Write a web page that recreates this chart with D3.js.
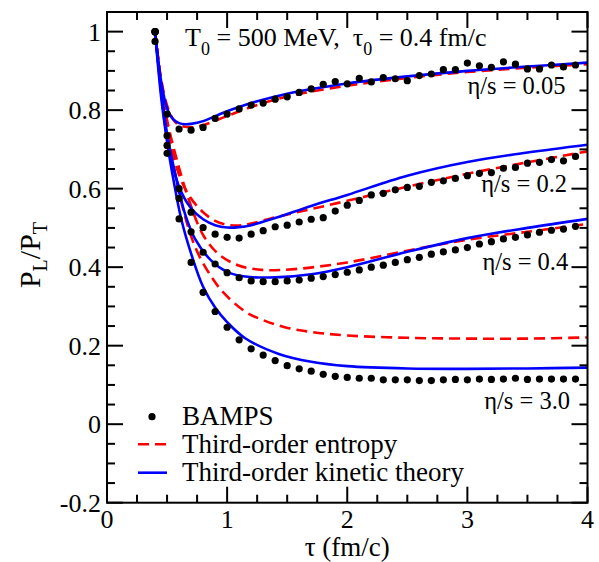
<!DOCTYPE html>
<html>
<head>
<meta charset="utf-8">
<script src="https://cdn.jsdelivr.net/npm/d3@7"></script>
<style>
  body { margin: 0; background: #fff; }
  svg text { font-family: "Liberation Serif", "DejaVu Serif", serif; }
</style>
</head>
<body>
<svg id="chart"></svg>
<script>
// BAMPS (точки), tau в fm/c
const bampsTau = [0.4, 0.5, 0.6, 0.7, 0.8, 0.9, 1.0, 1.1, 1.2, 1.3, 1.4, 1.5, 1.6, 1.7, 1.8, 1.9,
  2.0, 2.1, 2.2, 2.3, 2.4, 2.5, 2.6, 2.7, 2.8, 2.9, 3.0, 3.1, 3.2, 3.3, 3.4, 3.5, 3.6, 3.7, 3.8, 3.9];
const bamps005 = [1.0, 0.79, 0.752, 0.749, 0.756, 0.779, 0.79, 0.803, 0.813, 0.818, 0.828, 0.834, 0.845, 0.854, 0.866, 0.873,
  0.867, 0.881, 0.872, 0.883, 0.880, 0.875, 0.888, 0.892, 0.903, 0.903, 0.920, 0.913, 0.909, 0.923, 0.917, 0.905, 0.905, 0.915, 0.910, 0.915];
const bamps02 = [1.0, 0.735, 0.60, 0.54, 0.501, 0.484, 0.476, 0.474, 0.484, 0.493, 0.503, 0.507, 0.515, 0.522, 0.526, 0.543,
  0.558, 0.570, 0.584, 0.588, 0.597, 0.603, 0.606, 0.616, 0.620, 0.626, 0.633, 0.639, 0.641, 0.652, 0.654, 0.665, 0.667, 0.674, 0.671, 0.682];
const bamps04 = [1.0, 0.71, 0.575, 0.49, 0.438, 0.408, 0.386, 0.373, 0.365, 0.363, 0.363, 0.365, 0.367, 0.372, 0.376, 0.381,
  0.387, 0.393, 0.400, 0.405, 0.412, 0.419, 0.425, 0.433, 0.439, 0.444, 0.450, 0.459, 0.465, 0.472, 0.476, 0.482, 0.489, 0.494, 0.497, 0.504];
const bamps30 = [1.0, 0.69, 0.523, 0.412, 0.336, 0.287, 0.247, 0.215, 0.192, 0.176, 0.162, 0.149, 0.141, 0.135, 0.127, 0.122,
  0.119, 0.117, 0.117, 0.113, 0.113, 0.113, 0.111, 0.111, 0.113, 0.114, 0.113, 0.115, 0.114, 0.115, 0.117, 0.114, 0.115, 0.115, 0.115, 0.115];
const bampsExtra = [[0.4, 0.975]]; // вторая точка в начале

// Third-order kinetic theory (синие линии)
const kinTau005 = [0.4, 0.45, 0.5, 0.55, 0.6, 0.65, 0.7, 0.8, 1.0, 1.2, 1.5, 2.0, 2.5, 3.0, 3.5, 4.0];
const kin005 = [1.0, 0.875, 0.805, 0.777, 0.767, 0.764, 0.765, 0.772, 0.797, 0.818, 0.842, 0.868, 0.886, 0.900, 0.911, 0.921];
const kinTau02 = [0.4, 0.45, 0.5, 0.6, 0.7, 0.8, 0.9, 1.0, 1.1, 1.2, 1.4, 1.7, 2.0, 2.5, 3.0, 3.5, 4.0];
const kin02 = [1.0, 0.85, 0.73, 0.605, 0.55, 0.522, 0.507, 0.501, 0.502, 0.507, 0.525, 0.556, 0.584, 0.633, 0.668, 0.692, 0.712];
const kinTau04 = [0.4, 0.45, 0.5, 0.566, 0.65, 0.733, 0.87, 1.0, 1.15, 1.4, 1.7, 2.0, 2.5, 3.0, 3.5, 4.0];
const kin04 = [1.0, 0.855, 0.74, 0.64, 0.535, 0.472, 0.416, 0.388, 0.376, 0.374, 0.382, 0.40, 0.439, 0.474, 0.50, 0.523];
const kinTau30 = [0.4, 0.45, 0.5, 0.54, 0.62, 0.705, 0.8, 0.9, 1.0, 1.15, 1.43, 1.7, 2.0, 2.5, 3.0, 3.5, 4.0];
const kin30 = [1.0, 0.835, 0.72, 0.645, 0.52, 0.43, 0.35, 0.297, 0.26, 0.219, 0.179, 0.159, 0.148, 0.142, 0.141, 0.142, 0.144];

// Third-order entropy (красные пунктирные)
const entTau005 = [0.4, 0.45, 0.5, 0.55, 0.6, 0.7, 0.8, 1.0, 1.2, 1.5, 2.0, 2.5, 3.0, 3.5, 4.0];
const ent005 = [1.0, 0.88, 0.812, 0.777, 0.762, 0.756, 0.762, 0.785, 0.808, 0.835, 0.862, 0.882, 0.897, 0.908, 0.917];
const entTau02 = [0.4, 0.45, 0.5, 0.6, 0.7, 0.8, 0.9, 1.0, 1.1, 1.2, 1.4, 1.7, 2.0, 2.5, 3.0, 3.5, 4.0];
const ent02 = [1.0, 0.87, 0.765, 0.635, 0.575, 0.54, 0.518, 0.508, 0.506, 0.511, 0.527, 0.548, 0.569, 0.605, 0.638, 0.667, 0.695];
const entTau04 = [0.4, 0.45, 0.5, 0.58, 0.68, 0.8, 0.93, 1.09, 1.29, 1.56, 2.0, 2.5, 3.0, 3.5, 4.0];
const ent04 = [1.0, 0.87, 0.775, 0.675, 0.573, 0.482, 0.433, 0.405, 0.393, 0.395, 0.412, 0.442, 0.47, 0.49, 0.51];
const entTau30 = [0.4, 0.45, 0.5, 0.6, 0.733, 0.87, 0.97, 1.15, 1.3, 1.48, 1.7, 2.0, 2.5, 3.0, 3.5, 4.0];
const ent30 = [1.0, 0.865, 0.76, 0.59, 0.452, 0.375, 0.335, 0.287, 0.265, 0.247, 0.235, 0.226, 0.22, 0.218, 0.218, 0.221];

const xTicks = [0, 1, 2, 3, 4];
const yTicks = [-0.2, 0, 0.2, 0.4, 0.6, 0.8, 1];
const yTickLabels = ["-0.2", "0", "0.2", "0.4", "0.6", "0.8", "1"];
const etaLabels = ["η/s = 0.05", "η/s = 0.2", "η/s = 0.4", "η/s = 3.0"];
const legendLabels = ["BAMPS", "Third-order entropy", "Third-order kinetic theory"];

const svgWidth = 599, svgHeight = 562;
const margin = { top: 12, right: 11.5, bottom: 59.3, left: 107 };
const width = svgWidth - margin.left - margin.right;
const height = svgHeight - margin.top - margin.bottom;

let svg = d3.select("#chart").attr("width", svgWidth).attr("height", svgHeight);
let g = svg.append("g").attr("transform", `translate(${margin.left},${margin.top})`);

let x = d3.scaleLinear().domain([0, 4]).range([0, width]);
let y = d3.scaleLinear().domain([-0.2, 1.05]).range([height, 0]);

// линии
let line = d3.line()
    .x(d => x(d[0]))
    .y(d => y(d[1]))
    .curve(d3.curveCatmullRom.alpha(0.5));

const zip = (a, b) => a.map((t, i) => [t, b[i]]);

const entropy = [zip(entTau005, ent005), zip(entTau02, ent02), zip(entTau04, ent04), zip(entTau30, ent30)];
const kinetic = [zip(kinTau005, kin005), zip(kinTau02, kin02), zip(kinTau04, kin04), zip(kinTau30, kin30)];
const bamps = [bamps005, bamps02, bamps04, bamps30].map(s => zip(bampsTau, s));

g.selectAll("path.ent")
    .data(entropy)
    .enter()
    .append("path")
    .attr("class", "ent")
    .attr("d", line)
    .attr("fill", "none")
    .attr("stroke", "#ff0000")
    .attr("stroke-width", 2.6)
    .attr("stroke-dasharray", "11,6");

g.selectAll("path.kin")
    .data(kinetic)
    .enter()
    .append("path")
    .attr("class", "kin")
    .attr("d", line)
    .attr("fill", "none")
    .attr("stroke", "#0000ff")
    .attr("stroke-width", 2.6);

g.selectAll("circle.bamps")
    .data(bamps.flat().concat(bampsExtra))
    .enter()
    .append("circle")
    .attr("class", "bamps")
    .attr("cx", d => x(d[0]))
    .attr("cy", d => y(d[1]))
    .attr("r", 3.6)
    .attr("fill", "#000");

// рамка и тики
g.append("rect")
    .attr("width", width).attr("height", height)
    .attr("fill", "none").attr("stroke", "#000").attr("stroke-width", 2);

const xMinor = d3.range(0, 4.001, 0.25);
const yMinor = d3.range(-0.2, 1.051, 0.05);

function tickLen(v, step) {
    return Math.abs(v / step - Math.round(v / step)) < 1e-6 ? 16 : 8;
}

xMinor.forEach(v => {
    let l = tickLen(v, 1);
    g.append("line").attr("x1", x(v)).attr("x2", x(v)).attr("y1", height).attr("y2", height - l)
        .attr("stroke", "#000").attr("stroke-width", 2);
    g.append("line").attr("x1", x(v)).attr("x2", x(v)).attr("y1", 0).attr("y2", l)
        .attr("stroke", "#000").attr("stroke-width", 2);
});
yMinor.forEach(v => {
    let l = tickLen(v, 0.2);
    g.append("line").attr("y1", y(v)).attr("y2", y(v)).attr("x1", 0).attr("x2", l)
        .attr("stroke", "#000").attr("stroke-width", 2);
    g.append("line").attr("y1", y(v)).attr("y2", y(v)).attr("x1", width).attr("x2", width - l)
        .attr("stroke", "#000").attr("stroke-width", 2);
});

g.selectAll("text.xt")
    .data(xTicks)
    .enter()
    .append("text")
    .attr("class", "xt")
    .attr("x", d => x(d))
    .attr("y", height + 25)
    .attr("text-anchor", "middle")
    .attr("font-size", 26)
    .text(d => d);

g.selectAll("text.yt")
    .data(yTicks)
    .enter()
    .append("text")
    .attr("class", "yt")
    .attr("x", -6)
    .attr("y", d => y(d) + 9)
    .attr("text-anchor", "end")
    .attr("font-size", 26)
    .text((d, i) => yTickLabels[i]);

// подписи осей
svg.append("text")
    .attr("x", margin.left + x(2))
    .attr("y", 555.5)
    .attr("text-anchor", "middle")
    .attr("font-size", 27)
    .text("τ (fm/c)");

let yl = svg.append("text")
    .attr("transform", "translate(40,255) rotate(-90)")
    .attr("text-anchor", "middle")
    .attr("font-size", 30);
yl.append("tspan").text("P");
yl.append("tspan").attr("font-size", 20).attr("dy", 7).text("L");
yl.append("tspan").attr("dy", -7).text("/P");
yl.append("tspan").attr("font-size", 20).attr("dy", 7).text("T");

// аннотации
let ann = g.append("text")
    .attr("x", x(0.65)).attr("y", y(0.963))
    .attr("font-size", 26);
ann.append("tspan").text("T");
ann.append("tspan").attr("font-size", 18).attr("dy", 9).text("0");
ann.append("tspan").attr("dy", -9).text("\u00a0= 500 MeV,\u00a0\u00a0τ");
ann.append("tspan").attr("font-size", 18).attr("dy", 9).text("0");
ann.append("tspan").attr("dy", -9).text("\u00a0= 0.4 fm/c");

const etaPos = [[3.0, 0.841], [3.115, 0.591], [3.125, 0.393], [3.14, 0.039]];
g.selectAll("text.eta")
    .data(etaLabels)
    .enter()
    .append("text")
    .attr("class", "eta")
    .attr("x", (d, i) => x(etaPos[i][0]))
    .attr("y", (d, i) => y(etaPos[i][1]))
    .attr("font-size", 24.5)
    .text(d => d);

// легенда
let leg = svg.append("g").attr("transform", "translate(138,416.7)");
leg.append("circle").attr("cx", 14).attr("cy", 0).attr("r", 3.6).attr("fill", "#000");
leg.append("line").attr("x1", 0).attr("x2", 29).attr("y1", 27.5).attr("y2", 27.5)
    .attr("stroke", "#ff0000").attr("stroke-width", 2.6).attr("stroke-dasharray", "11,6");
leg.append("line").attr("x1", 0).attr("x2", 29).attr("y1", 56).attr("y2", 56)
    .attr("stroke", "#0000ff").attr("stroke-width", 2.6);
leg.selectAll("text")
    .data(legendLabels)
    .enter()
    .append("text")
    .attr("x", 44)
    .attr("y", (d, i) => 8 + i * 28)
    .attr("font-size", 27)
    .text(d => d);
</script>
</body>
</html>
